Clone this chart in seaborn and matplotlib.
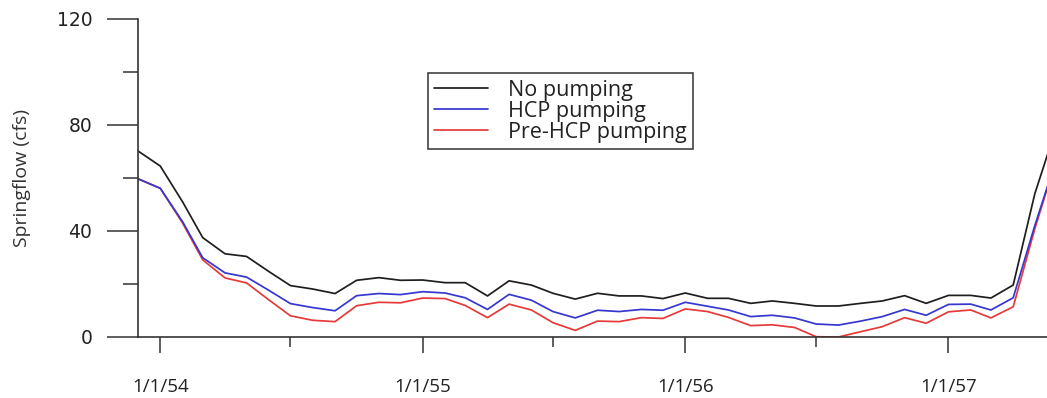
import matplotlib
matplotlib.use("Agg")
import matplotlib.pyplot as plt
import matplotlib.dates as mdates
import numpy as np
import pandas as pd
import seaborn as sns

# Monthly springflow, Dec 1953 - Jun 1957 (cfs)
months = pd.date_range("1953-12-01", periods=43, freq="MS")

no_pumping = [70.2, 64.5, 51.0, 37.5, 31.4, 30.4, 24.7, 19.4, 18.1, 16.4,
              21.4, 22.4, 21.4, 21.5, 20.5, 20.5, 15.5, 21.2, 19.6, 16.5,
              14.3, 16.5, 15.5, 15.5, 14.5, 16.6, 14.6, 14.6, 12.7, 13.6,
              12.7, 11.7, 11.7, 12.7, 13.6, 15.6, 12.7, 15.7, 15.7, 14.7,
              19.6, 54.0, 80.0]
hcp_pumping = [59.7, 56.1, 43.5, 29.9, 24.2, 22.6, 17.6, 12.6, 11.1, 9.9,
               15.6, 16.4, 16.0, 17.1, 16.6, 14.8, 10.4, 16.1, 13.9, 9.6,
               7.2, 10.1, 9.6, 10.4, 10.1, 13.1, 11.6, 10.2, 7.7, 8.2,
               7.2, 4.9, 4.5, 6.0, 7.7, 10.4, 8.2, 12.3, 12.4, 10.2,
               14.8, 42.0, 68.0]
pre_hcp_pumping = [59.7, 56.1, 43.0, 29.1, 22.3, 20.4, 14.0, 8.0, 6.3, 5.8,
                   11.8, 13.1, 12.9, 14.7, 14.5, 11.9, 7.3, 12.4, 10.2, 5.4,
                   2.5, 6.0, 5.8, 7.3, 7.0, 10.6, 9.6, 7.4, 4.3, 4.6,
                   3.6, 0.1, 0.0, 2.0, 3.9, 7.3, 5.2, 9.5, 10.2, 7.2,
                   11.4, 40.8, 68.0]

scenarios = ["No pumping", "HCP pumping", "Pre-HCP pumping"]
colors = {"No pumping": "#1e1e1e",
          "HCP pumping": "#3636d0",
          "Pre-HCP pumping": "#e63a3a"}

tick_dates = pd.to_datetime(["1954-01-01", "1955-01-01", "1956-01-01", "1957-01-01"])
tick_labels = ["1/1/54", "1/1/55", "1/1/56", "1/1/57"]
minor_dates = pd.to_datetime(["1954-07-01", "1955-07-01", "1956-07-01"])

df = pd.concat([
    pd.DataFrame({"date": months, "flow": vals, "scenario": name})
    for name, vals in zip(scenarios, [no_pumping, hcp_pumping, pre_hcp_pumping])
], ignore_index=True)

sns.set_style("ticks")
plt.rcParams["font.family"] = ["DejaVu Sans"]

fig = plt.figure(figsize=(10.47, 3.98), dpi=100)
ax = fig.add_axes([138 / 1047, 1 - 337 / 398, 909 / 1047, 318 / 398])

# draw red first so the blue and black curves sit on top
sns.lineplot(data=df, x="date", y="flow", hue="scenario",
             hue_order=scenarios[::-1], palette=colors,
             linewidth=1.25, ax=ax, legend=False)

ax.set_ylim(0, 120)
ax.set_xlim(pd.Timestamp("1953-12-01"), pd.Timestamp("1957-05-18"))

axis_col = "#333333"
for side in ["top", "right"]:
    ax.spines[side].set_visible(False)
for side in ["left", "bottom"]:
    ax.spines[side].set_color(axis_col)
    ax.spines[side].set_linewidth(1.2)

ax.set_yticks([0, 40, 80, 120])
ax.set_yticks([20, 60, 100], minor=True)
ax.set_xticks(tick_dates)
ax.set_xticklabels(tick_labels)
ax.set_xticks(minor_dates, minor=True)

ax.tick_params(axis="y", which="major", length=22, width=1.1, color=axis_col,
               pad=11, labelsize=13.5, labelcolor="#222222")
ax.tick_params(axis="y", which="minor", length=11, width=1.1, color=axis_col)
ax.tick_params(axis="x", which="major", length=11.5, width=1.1, color=axis_col,
               pad=18, labelsize=13.5, labelcolor="#222222")
ax.tick_params(axis="x", which="minor", length=7, width=1.1, color=axis_col)
for lab in ax.get_xticklabels():
    lab.set_family(["Open Sans", "DejaVu Sans"])

ax.set_xlabel("")
ax.set_ylabel("Springflow (cfs)", fontsize=14, color="#333333",
              family=["Open Sans", "DejaVu Sans"])
ax.yaxis.set_label_coords(-0.118, 0.5)

handles = [plt.Line2D([], [], color=colors[s], linewidth=1.25) for s in scenarios]
leg = ax.legend(handles, scenarios, loc="upper left",
                bbox_to_anchor=(0.319, 0.830), borderaxespad=0,
                frameon=True, fancybox=False, edgecolor="#333333",
                framealpha=1, handlelength=2.5, handletextpad=0.9,
                labelspacing=0.0, borderpad=0.3,
                prop={"family": ["Open Sans", "DejaVu Sans"], "size": 15.5})
leg.get_frame().set_linewidth(1.1)
for t in leg.get_texts():
    t.set_color("#222222")

fig.savefig("out.png", dpi=100)
